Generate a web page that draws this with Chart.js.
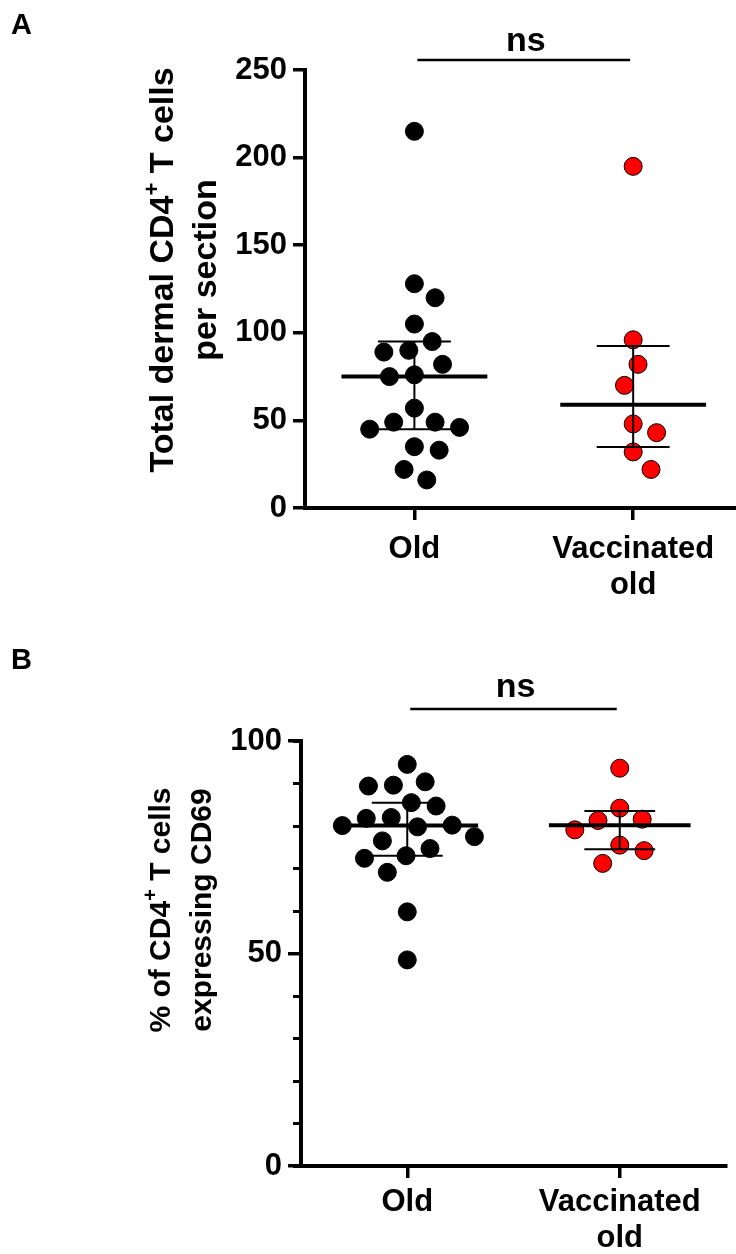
<!DOCTYPE html>
<html lang="en">
<head>
<meta charset="UTF-8">
<title>Dermal CD4+ T cells</title>
<style>
  body {
    margin: 0;
    background: #fff;
  }

  canvas {
    display: block;
  }
</style>
</head>
<body>
<canvas id="chartA" width="736" height="610"></canvas>
<canvas id="chartB" width="736" height="644"></canvas>

<script src="https://cdn.jsdelivr.net/npm/chart.js@4"></script>
<script>
  // group names on the x axis ("\n" breaks the label)
  var groups = ['Old', 'Vaccinated\nold'];

  // A: total dermal CD4+ T cells per section
  var totalOld = [215, 128, 120, 105, 95, 90, 89, 82, 76, 75, 57, 49, 49, 46, 45, 35, 33, 22, 16];
  var totalVacc = [195, 96, 82, 70, 48, 43, 32, 22];

  // B: % of CD4+ T cells expressing CD69
  var cd69Old = [94.5, 90.4, 89.6, 89.4, 85.5, 84.7, 82.0, 81.8, 80.2, 80.1, 79.8, 77.5, 76.5, 74.7, 73.0, 72.4, 69.1, 59.8, 48.5];
  var cd69Vacc = [93.6, 84.2, 81.6, 81.3, 79.1, 75.5, 74.2, 71.2];

  var groupColors = ['#000000', '#ff0000'];

  var FAMILY = "'Liberation Sans', Arial, Helvetica, sans-serif";
  Chart.defaults.font.family = FAMILY;
  Chart.defaults.font.weight = 'bold';
  Chart.defaults.color = '#000';
  Chart.defaults.animation = false;

  // percentile as Prism does it: rank p*(n+1), linear between neighbours
  function percentile(values, p) {
    var s = values.slice().sort(function(a, b) { return a - b; });
    var r = p * (s.length + 1) - 1;
    if (r <= 0) return s[0];
    if (r >= s.length - 1) return s[s.length - 1];
    var lo = Math.floor(r);
    return s[lo] + (r - lo) * (s[lo + 1] - s[lo]);
  }

  function segment(x1, y1, x2, y2, width) {
    return {
      data: [{x: x1, y: y1}, {x: x2, y: y2}],
      showLine: true,
      borderColor: '#000',
      borderWidth: width,
      pointRadius: 0,
      order: 0
    };
  }

  // median line plus interquartile whisker for one group
  function summary(values, g) {
    var med = percentile(values, 0.5);
    var q1 = percentile(values, 0.25);
    var q3 = percentile(values, 0.75);
    return [
      segment(g - 1 / 3, med, g + 1 / 3, med, 4),
      segment(g, q1, g, q3, 2),
      segment(g - 1 / 6, q3, g + 1 / 6, q3, 2),
      segment(g - 1 / 6, q1, g + 1 / 6, q1, 2)
    ];
  }

  function dots(values, g) {
    return {
      data: values.map(function(v) { return {x: g, y: v}; }),
      backgroundColor: groupColors[g - 1],
      borderColor: '#000',
      borderWidth: 1,
      pointRadius: 9,
      pointHoverRadius: 9,
      order: 1
    };
  }

  // spread the dots sideways so none overlap (simple beeswarm in pixels)
  function spreadDots(chart, diameter) {
    var xs = chart.scales.x, ys = chart.scales.y;
    chart.data.datasets.forEach(function(ds) {
      if (ds.showLine) return;
      var g = ds.data[0].x;
      var cx = xs.getPixelForValue(g);
      var placed = [];
      var idx = ds.data.map(function(d, i) { return i; });
      idx.sort(function(a, b) { return ds.data[b].y - ds.data[a].y; });
      idx.forEach(function(i) {
        var py = ys.getPixelForValue(ds.data[i].y);
        var near = placed.filter(function(p) { return Math.abs(p.py - py) < diameter; });
        var cands = [0];
        near.forEach(function(p) {
          var dx = Math.sqrt(diameter * diameter - (p.py - py) * (p.py - py));
          cands.push(p.px + dx, p.px - dx);
        });
        cands.sort(function(a, b) { return Math.abs(a) - Math.abs(b); });
        var px = cands.find(function(c) {
          return near.every(function(p) { return Math.hypot(c - p.px, py - p.py) >= diameter - 0.01; });
        });
        placed.push({px: px, py: py});
        ds.data[i] = {x: xs.getValueForPixel(cx + px), y: ds.data[i].y};
      });
    });
    chart.update('none');
  }

  // rotated, centred, with {..} parts set as superscript
  function drawRotated(ctx, text, baseX, centerY, size) {
    var parts = text.split(/\{([^}]*)\}/);
    var fonts = parts.map(function(p, i) {
      return 'bold ' + (i % 2 ? Math.round(size * 0.66) : size) + 'px ' + FAMILY;
    });
    var widths = parts.map(function(p, i) {
      ctx.font = fonts[i];
      return ctx.measureText(p).width;
    });
    var total = widths.reduce(function(a, b) { return a + b; }, 0);
    ctx.save();
    ctx.translate(baseX, centerY);
    ctx.rotate(-Math.PI / 2);
    ctx.textAlign = 'left';
    ctx.textBaseline = 'alphabetic';
    var x = -total / 2;
    parts.forEach(function(p, i) {
      ctx.font = fonts[i];
      ctx.fillText(p, x, i % 2 ? -size * 0.42 : 0);
      x += widths[i];
    });
    ctx.restore();
  }

  function overlay(o) {
    return {
      id: 'overlay',
      afterDraw: function(chart) {
        var ctx = chart.ctx;
        var xs = chart.scales.x;
        ctx.save();
        ctx.fillStyle = '#000';
        ctx.strokeStyle = '#000';

        ctx.font = 'bold 29px ' + FAMILY;
        ctx.textAlign = 'left';
        ctx.textBaseline = 'alphabetic';
        ctx.fillText(o.letter, 11, o.letterY);

        // significance bar between the two groups
        var x1 = xs.getPixelForValue(1) + 3;
        var x2 = xs.getPixelForValue(2) - 3;
        ctx.lineWidth = 2.5;
        ctx.beginPath();
        ctx.moveTo(x1, o.barY);
        ctx.lineTo(x2, o.barY);
        ctx.stroke();
        ctx.font = 'bold 34px ' + FAMILY;
        ctx.textAlign = 'center';
        ctx.fillText('ns', (x1 + x2) / 2 + 2, o.nsY);

        o.title.forEach(function(line, i) {
          drawRotated(ctx, line, o.titleX[i], o.titleY, o.titleSize);
        });
        ctx.restore();
      }
    };
  }

  function axisX(xMax, height, labelPad) {
    return {
      type: 'linear',
      min: 0.5,
      max: xMax,
      afterBuildTicks: function(scale) {
        scale.ticks = groups.map(function(g, i) { return {value: i + 1}; });
      },
      afterFit: function(scale) {
        scale.height = height;
        scale.paddingLeft = 0;
        scale.paddingRight = 0;
      },
      ticks: {
        autoSkip: false,
        maxRotation: 0,
        padding: labelPad,
        font: {size: 31, lineHeight: 1.15},
        callback: function(v) {
          var g = groups[Math.round(v) - 1];
          return g ? g.split('\n') : '';
        }
      },
      grid: {drawOnChartArea: false, tickLength: 12, lineWidth: 3.5, color: '#000'},
      border: {display: true, width: 4, color: '#000'}
    };
  }

  function axisY(max, step, width, tickLength) {
    return {
      type: 'linear',
      position: 'left',
      weight: 1,
      min: 0,
      max: max,
      afterFit: function(scale) { scale.width = width; },
      ticks: {stepSize: step, padding: 6, font: {size: 31}},
      grid: {drawOnChartArea: false, tickLength: tickLength, lineWidth: 3.5, color: '#000'},
      border: {display: true, width: 4, color: '#000'}
    };
  }

  function baseOptions(padding, scales) {
    return {
      responsive: false,
      layout: {padding: padding, autoPadding: false},
      plugins: {legend: {display: false}, tooltip: {enabled: false}},
      scales: scales
    };
  }

  // panel A
  var chartA = new Chart(document.getElementById('chartA'), {
    type: 'scatter',
    data: {
      datasets: summary(totalOld, 1).concat(summary(totalVacc, 2), [dots(totalOld, 1), dots(totalVacc, 2)])
    },
    options: baseOptions({top: 70, right: 0, bottom: 0, left: 0}, {
      x: axisX(2.47, 102, 12),
      y: axisY(250, 50, 305, 12)
    }),
    plugins: [overlay({
      letter: 'A', letterY: 34,
      barY: 60, nsY: 51,
      title: ['Total dermal CD4{+} T cells', 'per section'],
      titleX: [173, 216], titleY: 270, titleSize: 34
    })]
  });
  spreadDots(chartA, 25);

  // panel B, with minor ticks every 10 %
  var scalesB = {
    x: axisX(2.5, 88, 7),
    y: axisY(100, 50, 301, 13),
    yMinor: {
      type: 'linear',
      position: 'left',
      weight: 0,
      min: 0,
      max: 100,
      afterFit: function(scale) { scale.width = 0; },
      ticks: {display: false, stepSize: 10},
      grid: {drawOnChartArea: false, tickLength: 8, lineWidth: 3, color: '#000'},
      border: {display: false}
    }
  };
  var chartB = new Chart(document.getElementById('chartB'), {
    type: 'scatter',
    data: {
      datasets: summary(cd69Old, 1).concat(summary(cd69Vacc, 2), [dots(cd69Old, 1), dots(cd69Vacc, 2)])
    },
    options: baseOptions({top: 131, right: 10, bottom: 0, left: 0}, scalesB),
    plugins: [overlay({
      letter: 'B', letterY: 59,
      barY: 99, nsY: 87,
      title: ['% of CD4{+} T cells', 'expressing CD69'],
      titleX: [170, 211], titleY: 300, titleSize: 30
    })]
  });
  spreadDots(chartB, 25);
</script>
</body>
</html>
